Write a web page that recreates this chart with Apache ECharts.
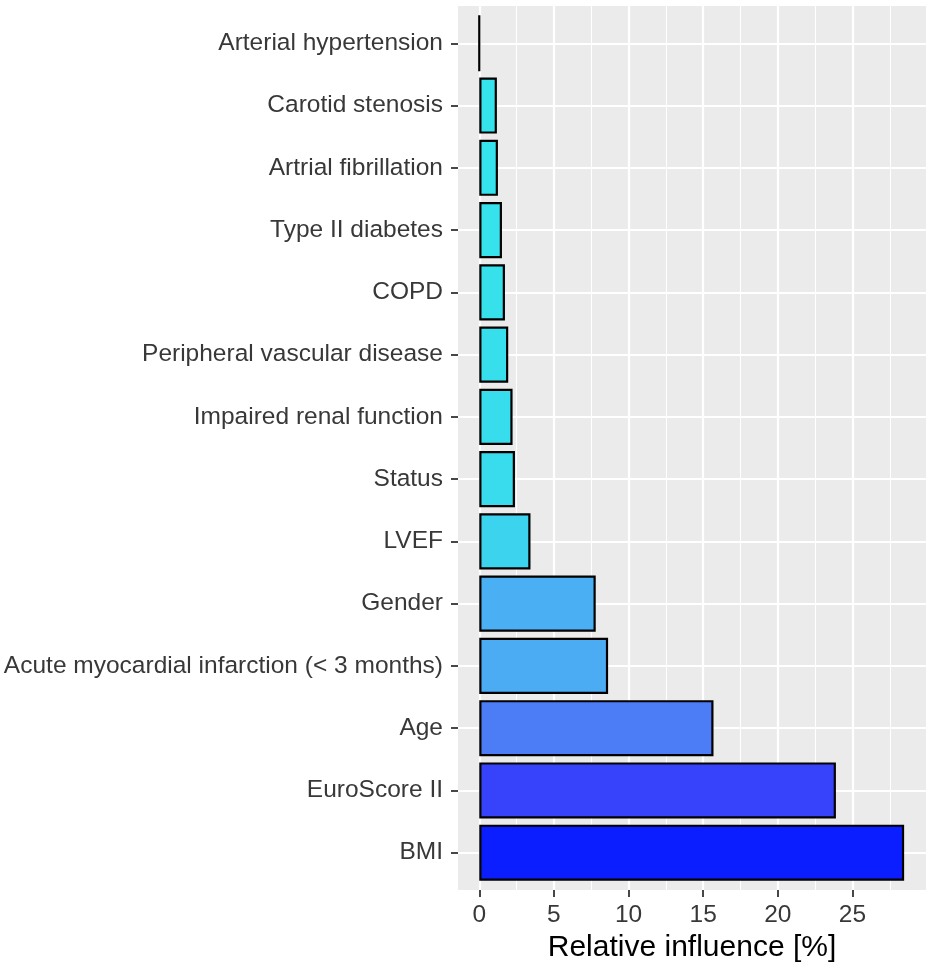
<!DOCTYPE html>
<html>
<head>
<meta charset="utf-8">
<script src="https://cdn.jsdelivr.net/npm/echarts@6/dist/echarts.min.js"></script>
<style>
  html, body { margin: 0; padding: 0; background: #ffffff; }
  #chart { width: 930px; height: 971px; }
</style>
</head>
<body>
<div id="chart"></div>
<script>
// ---- data (top to bottom) ----
const categories = [
  'Arterial hypertension',
  'Carotid stenosis',
  'Artrial fibrillation',
  'Type II diabetes',
  'COPD',
  'Peripheral vascular disease',
  'Impaired renal function',
  'Status',
  'LVEF',
  'Gender',
  'Acute myocardial infarction (< 3 months)',
  'Age',
  'EuroScore II',
  'BMI'
];
const influence = [0.0, 1.18, 1.25, 1.52, 1.72, 1.94, 2.23, 2.39, 3.43, 7.80, 8.63, 15.69, 23.89, 28.46];
const barColors = [
  '#35E4EC', '#35E3EC', '#35E3EC', '#36E2EC', '#36E1EC', '#37DFEC', '#38DDED',
  '#38DCED', '#3CD3EE', '#4AB0F3', '#4BACF3', '#4C7CF6', '#3743FB', '#0A1EFF'
];
const xTicks = [0, 5, 10, 15, 20, 25];
const xMinorGrid = [2.5, 7.5, 12.5, 17.5, 22.5, 27.5];
const xMin = -1.425, xMax = 29.925;

const chart = echarts.init(document.getElementById('chart'), null, { renderer: 'canvas' });

const FONT = '"Liberation Sans", Arial, Helvetica, sans-serif';
const PANEL = { left: 458, right: 4, top: 6, bottom: 81 };
// discrete axis: ggplot expansion 0.6 units each side
const unit = (971 - PANEL.top - PANEL.bottom) / (categories.length - 1 + 1.2);
const barGrid = {
  left: PANEL.left, right: PANEL.right,
  top: PANEL.top + 0.6 * unit,
  bottom: PANEL.bottom + 0.6 * unit
};

const gridMarks = xTicks.map(v => ({ xAxis: v, lineStyle: { width: 2.2 } }))
  .concat(xMinorGrid.map(v => ({ xAxis: v, lineStyle: { width: 1.1 } })));

const option = {
  animation: false,
  backgroundColor: '#ffffff',
  grid: [
    Object.assign({ show: true, backgroundColor: '#EBEBEB', borderWidth: 0, containLabel: false }, PANEL),
    Object.assign({ show: false, containLabel: false }, barGrid)
  ],
  xAxis: [
    {
      gridIndex: 0, type: 'value', min: xMin, max: xMax,
      axisLine: { show: false, onZero: false },
      splitLine: { show: false },
      axisTick: { show: true, customValues: xTicks, length: 7, lineStyle: { color: '#333333', width: 1.8 } },
      axisLabel: { show: true, customValues: xTicks, margin: 13, color: '#383838', fontSize: 24.5, fontFamily: FONT },
      name: 'Relative influence [%]',
      nameLocation: 'middle',
      nameGap: 42,
      nameTextStyle: { color: '#000000', fontSize: 30, fontFamily: FONT }
    },
    {
      gridIndex: 1, type: 'value', min: xMin, max: xMax, show: false,
      axisLine: { onZero: false },
      splitLine: { show: false }
    }
  ],
  yAxis: [
    { gridIndex: 0, type: 'value', min: 0, max: 1, show: false, axisLine: { onZero: false }, splitLine: { show: false } },
    {
      gridIndex: 1, type: 'category', data: categories, inverse: true, boundaryGap: false,
      axisLine: { show: false, onZero: false },
      axisTick: { show: true, length: 7, lineStyle: { color: '#333333', width: 1.8 } },
      axisLabel: { interval: 0, margin: 15, color: '#383838', fontSize: 24.5, fontFamily: FONT, padding: [3, 0, 0, 0] },
      splitLine: { show: true, lineStyle: { color: '#ffffff', width: 2.2 } }
    }
  ],
  series: [
    {
      type: 'line', xAxisIndex: 0, yAxisIndex: 0, data: [[0, 0.5]],
      symbol: 'none', lineStyle: { opacity: 0 }, silent: true, z: 1,
      markLine: {
        z: 1, zlevel: 0,
        silent: true, symbol: ['none', 'none'], label: { show: false },
        lineStyle: { color: '#ffffff', type: 'solid' },
        emphasis: { disabled: true },
        data: gridMarks
      }
    },
    {
      type: 'bar', xAxisIndex: 1, yAxisIndex: 1, z: 10, clip: false,
      barCategoryGap: '10%',
      data: influence.map((v, i) => ({
        value: v,
        itemStyle: { color: barColors[i], borderColor: '#000000', borderWidth: 2.2 }
      }))
    }
  ]
};
chart.setOption(option);
</script>
</body>
</html>
